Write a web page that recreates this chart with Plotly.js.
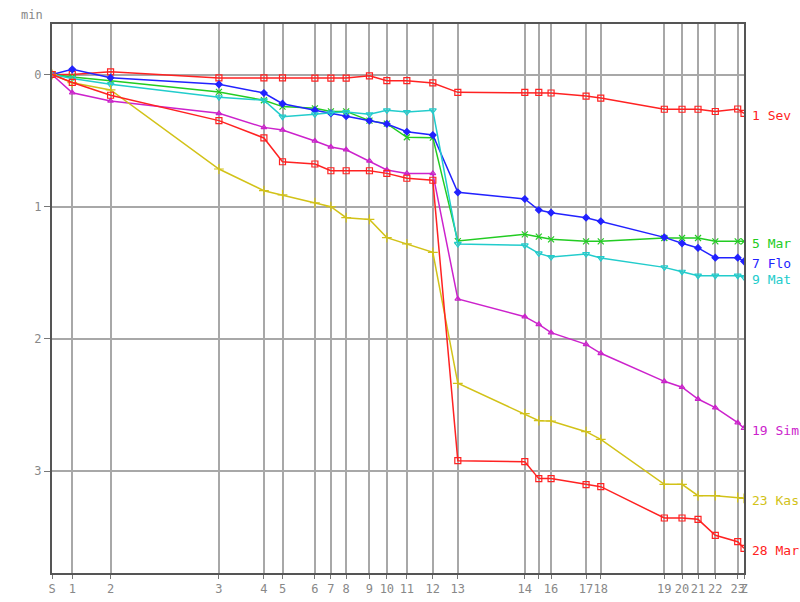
<!DOCTYPE html>
<html>
<head>
<meta charset="utf-8">
<script src="https://cdn.plot.ly/plotly-3.0.1.min.js"></script>
<style>html,body{margin:0;padding:0;background:#fff;}#chart{width:800px;height:602px;}</style>
</head>
<body>
<div id="chart"></div>
<script>
// Control points and their cumulative positions along the course
const controls = ["S","1","2","3","4","5","6","7","8","9","10","11","12","13","14","15","16","17","18","19","20","21","22","23","Z"];
const tickText = ["S","1","2","3","4","5","6","7","8","9","10","11","12","13","14","","16","17","18","19","20","21","22","23","Z"];
const ctrlPos = [0, 20.3, 58.6, 167, 212, 230.6, 263, 279, 294.3, 317.6, 335, 355, 381, 406, 473, 487, 499.3, 534.3, 549, 612.6, 630.3, 646.3, 663.6, 686, 692.3];

// Time behind (minutes) at each control
const names = ["1 Sev", "5 Mar", "7 Flo", "9 Mat", "19 Sim", "23 Kas", "28 Mar"];
const sev = [0, 0.00, -0.02, 0.026, 0.026, 0.026, 0.027, 0.027, 0.027, 0.01, 0.047, 0.047, 0.064, 0.135, 0.135, 0.135, 0.14, 0.163, 0.178, 0.263, 0.263, 0.263, 0.28, 0.261, 0.294];
const mar5 = [0, 0.019, 0.047, 0.132, 0.195, 0.243, 0.256, 0.279, 0.279, 0.349, 0.372, 0.475, 0.478, 1.26, 1.209, 1.227, 1.247, 1.262, 1.262, 1.237, 1.237, 1.237, 1.262, 1.262, 1.262];
const flo = [0, -0.039, 0.024, 0.074, 0.14, 0.221, 0.27, 0.294, 0.316, 0.349, 0.374, 0.433, 0.458, 0.891, 0.942, 1.025, 1.045, 1.083, 1.11, 1.232, 1.277, 1.312, 1.386, 1.386, 1.413];
const mat = [0, 0.03, 0.074, 0.172, 0.195, 0.319, 0.301, 0.289, 0.284, 0.301, 0.271, 0.284, 0.271, 1.282, 1.292, 1.353, 1.381, 1.358, 1.388, 1.459, 1.492, 1.522, 1.522, 1.522, 1.532];
const sim = [0, 0.138, 0.2, 0.294, 0.4, 0.42, 0.503, 0.548, 0.569, 0.654, 0.722, 0.748, 0.748, 1.698, 1.832, 1.89, 1.953, 2.041, 2.109, 2.321, 2.366, 2.455, 2.52, 2.634, 2.676];
const kas = [0, 0.062, 0.117, 0.715, 0.879, 0.911, 0.97, 1.0, 1.083, 1.096, 1.234, 1.282, 1.345, 2.336, 2.566, 2.619, 2.621, 2.702, 2.76, 3.1, 3.1, 3.186, 3.186, 3.2, 3.206];
const mar28 = [0, 0.06, 0.157, 0.349, 0.48, 0.66, 0.677, 0.728, 0.728, 0.728, 0.748, 0.785, 0.8, 2.921, 2.929, 3.057, 3.057, 3.103, 3.118, 3.355, 3.355, 3.365, 3.486, 3.534, 3.584];

const series = [sev, mar5, flo, mat, sim, kas, mar28];
const colors = ["#ff2222", "#22cc22", "#2222ff", "#22cccc", "#cc22cc", "#d2c218", "#ff2222"];
const symbols = ["square-open", "x-thin-open", "diamond", "triangle-down-open", "triangle-up-open", "cross-thin-open", "square-open"];
const sizes = [6, 6, 5, 6, 5, 7, 6];

const traces = series.map((ys, i) => ({
  type: "scatter",
  mode: "lines+markers",
  x: ctrlPos,
  y: ys,
  name: names[i],
  line: {color: colors[i], width: 1.5},
  marker: {symbol: symbols[i], size: sizes[i], color: colors[i], line: {color: colors[i], width: 1.2}},
  showlegend: false,
  hoverinfo: "skip"
}));

const annotations = series.map((ys, i) => ({
  xref: "x", yref: "y",
  x: ctrlPos[ctrlPos.length - 1], y: ys[ys.length - 1],
  text: names[i], showarrow: false,
  xanchor: "left", yanchor: "middle", xshift: 6, yshift: -2,
  font: {family: "DejaVu Sans Mono, monospace", size: 13, color: colors[i]}
}));
annotations.push({
  xref: "paper", yref: "paper", x: -0.01, y: 1.017,
  xanchor: "right", yanchor: "middle", showarrow: false,
  text: "min", font: {family: "DejaVu Sans Mono, monospace", size: 12, color: "#888"}
});

const layout = {
  width: 800, height: 602,
  margin: {l: 52, r: 56, t: 24, b: 29, pad: 0},
  paper_bgcolor: "#fff", plot_bgcolor: "#fff",
  showlegend: false,
  xaxis: {
    range: [0, 692.3], autorange: false,
    tickmode: "array", tickvals: ctrlPos, ticktext: tickText,
    showgrid: true, gridcolor: "#a8a8a8", gridwidth: 2,
    zeroline: false,
    showline: true, linecolor: "#555", linewidth: 2, mirror: true,
    ticks: "outside", ticklen: 4, tickcolor: "#777", tickwidth: 1,
    tickangle: 0,
    tickfont: {family: "DejaVu Sans Mono, monospace", size: 12, color: "#888"}
  },
  yaxis: {
    range: [3.771, -0.382], autorange: false,
    tickmode: "array", tickvals: [0, 1, 2, 3], ticktext: ["0", "1", "2", "3"],
    showgrid: true, gridcolor: "#a8a8a8", gridwidth: 2,
    zeroline: false,
    showline: true, linecolor: "#555", linewidth: 2, mirror: true,
    ticks: "outside", ticklen: 6, tickcolor: "#777", tickwidth: 1,
    tickfont: {family: "DejaVu Sans Mono, monospace", size: 12, color: "#888"}
  },
  annotations: annotations
};

Plotly.newPlot("chart", traces, layout, {displayModeBar: false, staticPlot: true});
</script>
</body>
</html>
